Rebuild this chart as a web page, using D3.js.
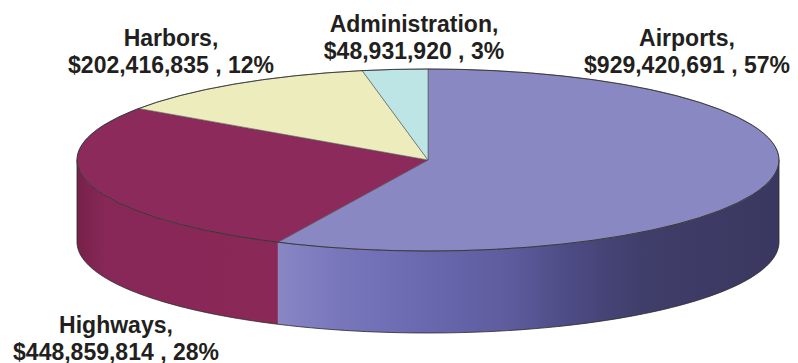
<!DOCTYPE html>
<html lang="en">
<head>
    <meta charset="UTF-8">
    <title>Budget by Division</title>
    <script src="https://d3js.org/d3.v7.min.js"></script>
    <style>
        body { margin: 0; background: #fff; }
        .label { font-family: "Liberation Sans", Arial, sans-serif; font-weight: bold; font-size: 23px; fill: #231f20; }
        .edge { fill: none; stroke: #2a2a2a; stroke-width: 0.8; }
    </style>
</head>
<body>
<svg width="798" height="363"></svg>
<script>
    // data
    const categories = ["Airports", "Highways", "Harbors", "Administration"];
    const amounts = [929420691, 448859814, 202416835, 48931920];
    const percentLabels = ["57%", "28%", "12%", "3%"];

    const topColors = ["#8a88c3", "#8c2a5b", "#ececbd", "#bde5e6"];

    // layout
    const width = 798, height = 363;
    const cx = 428, cy = 160;
    const rx = 351, ry = 91;
    const depth = 82;
    const labelSpots = [
        { x: 687, y: 46 },
        { x: 116, y: 333 },
        { x: 171, y: 46 },
        { x: 414, y: 32 }
    ];
    const lineGap = 27;

    const svg = d3.select("svg")
        .attr("width", width)
        .attr("height", height);

    const slices = d3.pie().sort(null).value(d => d.amount)(
        categories.map((c, i) => ({ name: c, amount: amounts[i], pct: percentLabels[i], i }))
    );

    // angle measured clockwise from 12 o'clock
    const px = a => cx + rx * Math.sin(a);
    const py = a => cy - ry * Math.cos(a);

    const defs = svg.append("defs");
    const sideStops = [
        [
            ["0%", "#8986c5"], ["12%", "#7977bc"], ["30%", "#6967ae"], ["45%", "#5f5d9f"],
            ["60%", "#4b4980"], ["72%", "#403e6a"], ["100%", "#3a3860"]
        ],
        [
            ["0%", "#772149"], ["15%", "#882858"], ["100%", "#8a2857"]
        ]
    ];

    const line = d3.line().x(d => d[0]).y(d => d[1]);

    // sides (front half only: pi/2 .. 3pi/2)
    slices.forEach(s => {
        const a0 = Math.max(s.startAngle, Math.PI / 2);
        const a1 = Math.min(s.endAngle, Math.PI * 3 / 2);
        if (a1 <= a0) return;
        const gid = "side" + s.data.i;
        const g = defs.append("linearGradient")
            .attr("id", gid)
            .attr("gradientUnits", "userSpaceOnUse")
            .attr("x1", Math.min(px(a0), px(a1))).attr("x2", Math.max(px(a0), px(a1)))
            .attr("y1", 0).attr("y2", 0);
        (sideStops[s.data.i] || [["0%", topColors[s.data.i]], ["100%", topColors[s.data.i]]])
            .forEach(st => g.append("stop").attr("offset", st[0]).attr("stop-color", st[1]));

        const steps = d3.range(0, 61).map(k => a0 + (a1 - a0) * k / 60);
        const topPts = steps.map(a => [px(a), py(a)]);
        const botPts = steps.slice().reverse().map(a => [px(a), py(a) + depth]);
        svg.append("path")
            .attr("d", line(topPts.concat(botPts)) + "Z")
            .attr("fill", `url(#${gid})`)
            .attr("stroke", "none");
        svg.append("path")
            .attr("class", "edge")
            .attr("d", line(steps.map(a => [px(a), py(a) + depth])));
    });

    // vertical edges of the side
    [Math.PI / 2, Math.PI * 3 / 2].forEach(a => {
        svg.append("line")
            .attr("class", "edge")
            .attr("stroke-width", 0.5)
            .attr("x1", px(a)).attr("x2", px(a))
            .attr("y1", py(a)).attr("y2", py(a) + depth);
    });

    // top face
    const arc = d3.arc().innerRadius(0).outerRadius(rx);
    const topFace = svg.append("g")
        .attr("transform", `translate(${cx},${cy}) scale(1,${ry / rx})`);
    topFace.selectAll("path.slice")
        .data(slices)
        .enter()
        .append("path")
        .attr("class", "slice")
        .attr("d", arc)
        .attr("fill", d => topColors[d.data.i])
        .attr("stroke", "#555")
        .attr("stroke-width", 0.6)
        .attr("vector-effect", "non-scaling-stroke");

    // outline of top ellipse
    svg.append("ellipse")
        .attr("class", "edge")
        .attr("cx", cx).attr("cy", cy)
        .attr("rx", rx).attr("ry", ry);

    // labels
    const fmt = d3.format(",");
    slices.forEach(s => {
        const spot = labelSpots[s.data.i];
        const t = svg.append("text")
            .attr("class", "label")
            .attr("text-anchor", "middle");
        t.append("tspan").attr("x", spot.x).attr("y", spot.y).text(s.data.name + ",");
        t.append("tspan").attr("x", spot.x).attr("y", spot.y + lineGap)
            .text("$" + fmt(s.data.amount) + " , " + s.data.pct);
    });
</script>
</body>
</html>
